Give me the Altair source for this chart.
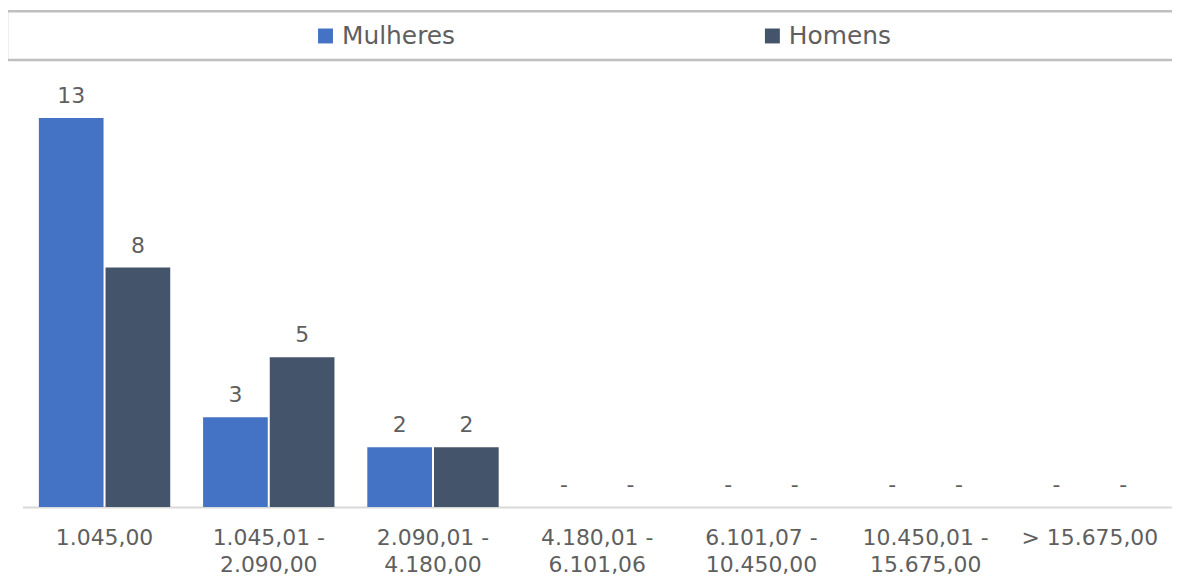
import altair as alt
import pandas as pd

categories = ["1.045,00", "1.045,01 - 2.090,00", "2.090,01 - 4.180,00",
              "4.180,01 - 6.101,06", "6.101,07 - 10.450,00",
              "10.450,01 - 15.675,00", "> 15.675,00"]
series = ["Mulheres", "Homens"]
mulheres = [13, 3, 2, 0, 0, 0, 0]
homens = [8, 5, 2, 0, 0, 0, 0]
colors = ["#4472C4", "#44546A"]

rows = []
for c, m, h in zip(categories, mulheres, homens):
    rows.append({"cat": c, "serie": "Mulheres", "v": m, "lbl": str(m) if m else "-"})
    rows.append({"cat": c, "serie": "Homens", "v": h, "lbl": str(h) if h else "-"})
df = pd.DataFrame(rows)

FONT = "DejaVu Sans"
TXT = "#5f5f5f"

label_expr = ("indexof(datum.value, ' - ') > 0 ? "
              "[slice(datum.value, 0, indexof(datum.value, ' - ') + 2), "
              "slice(datum.value, indexof(datum.value, ' - ') + 3)] : datum.value")

x = alt.X("cat:N", sort=categories, title=None,
          scale=alt.Scale(paddingInner=0.2, paddingOuter=0.1),
          axis=alt.Axis(labelAngle=0, labelExpr=label_expr, labelFont=FONT,
                        labelFontSize=22, labelColor=TXT, labelPadding=21,
                        labelLineHeight=27, ticks=False, domainColor="#D9D9D9",
                        domainWidth=2, labelBaseline="top"))
xo = alt.XOffset("serie:N", sort=series, scale=alt.Scale(paddingInner=0.03))
y = alt.Y("v:Q", scale=alt.Scale(domain=[0, 14]), axis=None)
color = alt.Color("serie:N", sort=series,
                  scale=alt.Scale(domain=series, range=colors),
                  legend=alt.Legend(title=None, orient="none", direction="horizontal",
                                    legendX=292, legendY=-65, symbolType="square",
                                    symbolSize=225, symbolStrokeWidth=0,
                                    labelFont=FONT, labelFontSize=25, labelColor=TXT,
                                    labelOffset=4, columnPadding=306, labelLimit=300))

base = alt.Chart(df)
bars = base.mark_bar().encode(x=x, xOffset=xo, y=y, color=color)
texts = base.mark_text(font=FONT, fontSize=22, color=TXT, baseline="alphabetic", dy=-15).encode(
    x=x, xOffset=xo, y=y, text="lbl:N")

box = alt.Chart(pd.DataFrame({"k": [0]})).mark_rect(
    fill="white", fillOpacity=0, stroke="#BFBFBF", strokeWidth=2.5).encode(
    x=alt.value(-15.5), x2=alt.value(1200), y=alt.value(-77), y2=alt.value(-28))

chart = alt.layer(box, bars, texts).properties(
    width=1155, height=421,
    padding={"left": 14.5, "top": 79, "right": 0, "bottom": 70},
    autosize=alt.AutoSizeParams(type="none"),
).configure(background="white").configure_view(strokeWidth=0, stroke="transparent")

chart.save("out.html", embed_options={"renderer": "svg", "actions": False})
